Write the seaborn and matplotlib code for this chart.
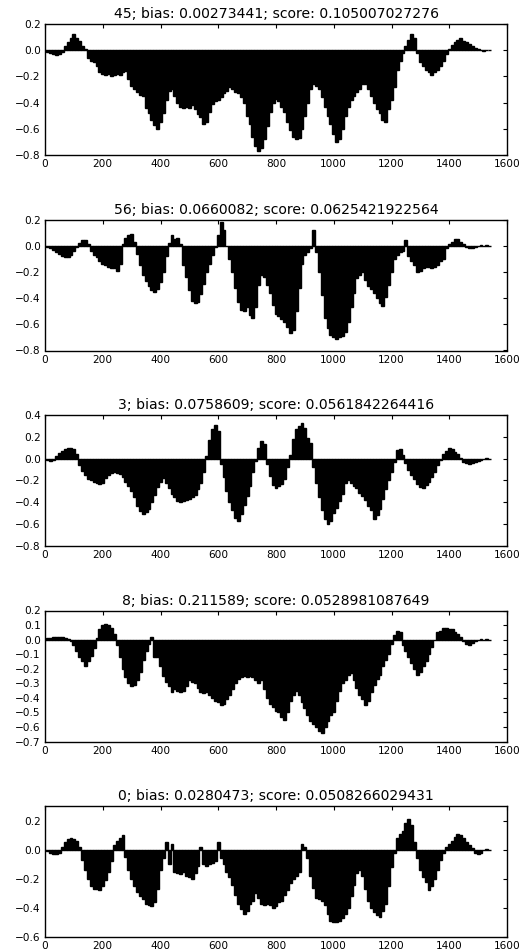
import numpy as np
import matplotlib
matplotlib.use("Agg")
import matplotlib.pyplot as plt
import seaborn as sns

# Per-position weights for five units, sampled every 10 positions (0 .. 1540)
unit_ids = [45, 56, 3, 8, 0]
biases = ["0.00273441", "0.0660082", "0.0758609", "0.211589", "0.0280473"]
scores = ["0.105007027276", "0.0625421922564", "0.0561842264416",
          "0.0528981087649", "0.0508266029431"]

w45 = [
    0.0, -0.01, -0.02, -0.03, -0.04, -0.03, -0.01, 0.03, 0.06, 0.09,
    0.12, 0.09, 0.07, 0.03, 0.01, -0.06, -0.08, -0.09, -0.12, -0.17,
    -0.18, -0.19, -0.18, -0.20, -0.19, -0.18, -0.19, -0.17, -0.16, -0.22,
    -0.27, -0.30, -0.32, -0.34, -0.35, -0.44, -0.48, -0.53, -0.57, -0.60,
    -0.55, -0.48, -0.38, -0.31, -0.30, -0.35, -0.40, -0.43, -0.44, -0.43,
    -0.44, -0.42, -0.45, -0.49, -0.51, -0.56, -0.55, -0.47, -0.41, -0.39,
    -0.38, -0.36, -0.33, -0.31, -0.28, -0.30, -0.32, -0.33, -0.36, -0.40,
    -0.50, -0.56, -0.66, -0.73, -0.77, -0.75, -0.68, -0.58, -0.47, -0.40,
    -0.37, -0.39, -0.43, -0.47, -0.55, -0.61, -0.66, -0.68, -0.67, -0.60,
    -0.50, -0.40, -0.30, -0.26, -0.27, -0.30, -0.36, -0.43, -0.50, -0.56,
    -0.64, -0.70, -0.68, -0.60, -0.50, -0.43, -0.38, -0.35, -0.32, -0.30,
    -0.26, -0.26, -0.30, -0.35, -0.40, -0.45, -0.48, -0.53, -0.55, -0.45,
    -0.38, -0.28, -0.15, -0.08, -0.02, 0.03, 0.08, 0.12, 0.09, -0.02,
    -0.09, -0.12, -0.15, -0.17, -0.19, -0.17, -0.15, -0.12, -0.08, -0.03,
    0.01, 0.04, 0.06, 0.08, 0.09, 0.07, 0.06, 0.05, 0.03, 0.02,
    0.01, 0.005, -0.003, 0.002, -0.002,
]

w56 = [
    0.0, -0.01, -0.02, -0.03, -0.05, -0.06, -0.08, -0.09, -0.09, -0.07,
    -0.04, -0.01, 0.02, 0.04, 0.04, 0.01, -0.04, -0.07, -0.09, -0.12,
    -0.14, -0.15, -0.16, -0.17, -0.17, -0.19, -0.14, 0.01, 0.06, 0.08,
    0.09, 0.03, -0.06, -0.15, -0.22, -0.27, -0.31, -0.34, -0.35, -0.33,
    -0.28, -0.20, -0.08, 0.02, 0.08, 0.05, 0.06, 0.01, -0.15, -0.24,
    -0.34, -0.42, -0.44, -0.43, -0.37, -0.29, -0.20, -0.14, -0.07, -0.01,
    0.08, 0.18, 0.12, 0.0, -0.10, -0.20, -0.32, -0.43, -0.49, -0.50,
    -0.47, -0.53, -0.55, -0.47, -0.30, -0.22, -0.24, -0.30, -0.36, -0.45,
    -0.52, -0.54, -0.56, -0.58, -0.62, -0.67, -0.64, -0.50, -0.32, -0.14,
    -0.07, -0.05, -0.02, 0.12, -0.05, -0.20, -0.38, -0.55, -0.63, -0.68,
    -0.70, -0.71, -0.70, -0.69, -0.66, -0.58, -0.47, -0.36, -0.25, -0.22,
    -0.20, -0.26, -0.31, -0.33, -0.36, -0.40, -0.44, -0.46, -0.39, -0.30,
    -0.20, -0.10, -0.07, -0.05, -0.04, 0.04, -0.08, -0.12, -0.15, -0.20,
    -0.19, -0.17, -0.16, -0.16, -0.17, -0.16, -0.15, -0.12, -0.10, -0.02,
    0.01, 0.03, 0.05, 0.05, 0.03, 0.01, -0.01, -0.02, -0.02, -0.01,
    -0.005, 0.002, -0.003, 0.002, -0.002,
]

w3 = [
    0.0, -0.01, -0.02, -0.01, 0.02, 0.05, 0.07, 0.09, 0.10, 0.10,
    0.09, 0.04, -0.06, -0.11, -0.15, -0.19, -0.20, -0.21, -0.22, -0.23,
    -0.22, -0.18, -0.15, -0.13, -0.12, -0.13, -0.14, -0.17, -0.21, -0.25,
    -0.30, -0.35, -0.43, -0.48, -0.51, -0.49, -0.46, -0.40, -0.33, -0.26,
    -0.21, -0.18, -0.22, -0.27, -0.32, -0.35, -0.39, -0.40, -0.39, -0.38,
    -0.37, -0.35, -0.33, -0.28, -0.22, -0.12, 0.02, 0.17, 0.27, 0.31,
    0.25, -0.05, -0.17, -0.30, -0.40, -0.47, -0.54, -0.57, -0.51, -0.42,
    -0.34, -0.25, -0.12, -0.02, 0.10, 0.16, 0.13, -0.05, -0.16, -0.24,
    -0.27, -0.25, -0.23, -0.19, -0.08, 0.03, 0.18, 0.27, 0.30, 0.33,
    0.28, 0.19, 0.14, -0.08, -0.22, -0.35, -0.47, -0.55, -0.60, -0.57,
    -0.50, -0.45, -0.39, -0.32, -0.22, -0.20, -0.22, -0.25, -0.27, -0.31,
    -0.34, -0.38, -0.43, -0.47, -0.55, -0.52, -0.46, -0.37, -0.28, -0.20,
    -0.12, -0.03, 0.08, 0.09, 0.03, -0.04, -0.10, -0.15, -0.19, -0.23,
    -0.26, -0.27, -0.24, -0.21, -0.17, -0.12, -0.06, -0.01, 0.04, 0.07,
    0.10, 0.09, 0.06, 0.04, 0.01, -0.03, -0.04, -0.05, -0.04, -0.03,
    -0.02, -0.01, -0.003, 0.002, -0.002,
]

w8 = [
    0.005, 0.01, 0.01, 0.015, 0.02, 0.02, 0.015, 0.01, 0.005, -0.01,
    -0.04, -0.08, -0.12, -0.15, -0.18, -0.15, -0.11, -0.06, 0.01, 0.07,
    0.10, 0.11, 0.10, 0.08, 0.04, -0.04, -0.12, -0.20, -0.26, -0.30,
    -0.32, -0.31, -0.28, -0.22, -0.14, -0.08, -0.03, 0.02, -0.12, -0.12,
    -0.18, -0.25, -0.29, -0.32, -0.36, -0.34, -0.35, -0.36, -0.35, -0.32,
    -0.28, -0.29, -0.30, -0.33, -0.36, -0.37, -0.36, -0.38, -0.40, -0.42,
    -0.43, -0.45, -0.44, -0.41, -0.38, -0.34, -0.30, -0.27, -0.26, -0.25,
    -0.26, -0.25, -0.26, -0.28, -0.30, -0.28, -0.34, -0.40, -0.44, -0.46,
    -0.49, -0.50, -0.53, -0.55, -0.50, -0.42, -0.38, -0.35, -0.38, -0.43,
    -0.47, -0.52, -0.56, -0.58, -0.60, -0.63, -0.64, -0.60, -0.56, -0.52,
    -0.50, -0.42, -0.35, -0.30, -0.28, -0.24, -0.23, -0.28, -0.33, -0.38,
    -0.41, -0.45, -0.42, -0.36, -0.31, -0.27, -0.24, -0.18, -0.14, -0.10,
    -0.03, 0.03, 0.06, 0.05, -0.04, -0.08, -0.12, -0.16, -0.20, -0.24,
    -0.22, -0.18, -0.15, -0.10, -0.05, 0.0, 0.05, 0.06, 0.08, 0.08,
    0.07, 0.07, 0.05, 0.04, 0.02, -0.01, -0.03, -0.04, -0.02, -0.01,
    -0.005, 0.003, -0.003, 0.002, -0.002,
]

w0 = [
    0.0, -0.01, -0.02, -0.03, -0.03, -0.02, 0.02, 0.05, 0.07, 0.08,
    0.07, 0.06, 0.02, -0.07, -0.14, -0.20, -0.25, -0.27, -0.27, -0.28,
    -0.25, -0.21, -0.15, -0.08, 0.03, 0.06, 0.08, 0.10, -0.05, -0.14,
    -0.20, -0.25, -0.29, -0.32, -0.34, -0.37, -0.38, -0.39, -0.36, -0.27,
    -0.14, -0.06, 0.05, -0.10, 0.04, -0.15, -0.16, -0.17, -0.15, -0.18,
    -0.19, -0.20, -0.16, -0.11, 0.02, -0.10, -0.11, -0.10, -0.09, -0.08,
    0.05, -0.06, -0.10, -0.15, -0.19, -0.24, -0.31, -0.37, -0.41, -0.44,
    -0.42, -0.37, -0.35, -0.30, -0.33, -0.37, -0.38, -0.37, -0.38, -0.40,
    -0.39, -0.36, -0.35, -0.31, -0.28, -0.23, -0.20, -0.18, -0.15, 0.04,
    0.02, -0.06, -0.18, -0.26, -0.33, -0.34, -0.35, -0.38, -0.44, -0.49,
    -0.50, -0.50, -0.49, -0.47, -0.44, -0.40, -0.32, -0.24, -0.16, -0.14,
    -0.18, -0.27, -0.35, -0.40, -0.43, -0.45, -0.46, -0.42, -0.37, -0.25,
    -0.12, -0.02, 0.08, 0.11, 0.13, 0.18, 0.21, 0.17, 0.05, -0.06,
    -0.14, -0.19, -0.22, -0.28, -0.25, -0.20, -0.14, -0.07, -0.02, 0.02,
    0.04, 0.06, 0.09, 0.11, 0.10, 0.08, 0.05, 0.03, 0.01, -0.02,
    -0.03, -0.02, -0.005, 0.002, -0.002,
]

series = [w45, w56, w3, w8, w0]
y_limits = [(-0.8, 0.2), (-0.8, 0.2), (-0.8, 0.4), (-0.7, 0.2), (-0.6, 0.3)]
y_ticks = [
    [-0.8, -0.6, -0.4, -0.2, 0.0, 0.2],
    [-0.8, -0.6, -0.4, -0.2, 0.0, 0.2],
    [-0.8, -0.6, -0.4, -0.2, 0.0, 0.2, 0.4],
    [-0.7, -0.6, -0.5, -0.4, -0.3, -0.2, -0.1, 0.0, 0.1, 0.2],
    [-0.6, -0.4, -0.2, 0.0, 0.2],
]
x_ticks = [0, 200, 400, 600, 800, 1000, 1200, 1400, 1600]

sns.set_style("white", {
    "axes.edgecolor": "black",
    "xtick.direction": "in",
    "ytick.direction": "in",
    "text.color": "black",
    "axes.labelcolor": "black",
    "xtick.color": "black",
    "ytick.color": "black",
})
plt.rcParams["font.family"] = ["DejaVu Sans"]
plt.rcParams["axes.linewidth"] = 1.0

W, H = 525, 952
fig = plt.figure(figsize=(W / 100, H / 100), dpi=100)

panel_tops = [24, 219.5, 415, 610.5, 806]
panel_h = 131
left_px, width_px = 45, 462

for i, vals in enumerate(series):
    top = panel_tops[i]
    ax = fig.add_axes([left_px / W, 1 - (top + panel_h) / H,
                       width_px / W, panel_h / H])
    pos = np.arange(len(vals)) * 10
    sns.barplot(x=pos, y=vals, native_scale=True, color="black",
                saturation=1, width=1.0, errorbar=None,
                edgecolor="black", linewidth=1.0, ax=ax)
    ax.set_xlim(0, 1600)
    ax.set_ylim(*y_limits[i])
    ax.set_xticks(x_ticks)
    ax.set_xticklabels([str(t) for t in x_ticks])
    ax.set_yticks(y_ticks[i])
    ax.set_xlabel("")
    ax.set_ylabel("")
    ax.tick_params(direction="in", length=3, width=0.8, top=True, right=True,
                   labelsize=7.6, colors="black", pad=3)
    for s in ax.spines.values():
        s.set_visible(True)
        s.set_color("black")
        s.set_linewidth(1.0)
    ax.set_title(f"{unit_ids[i]}; bias: {biases[i]}; score: {scores[i]}",
                 fontsize=10.1, pad=4, color="black")

fig.savefig("out.png", dpi=100)
